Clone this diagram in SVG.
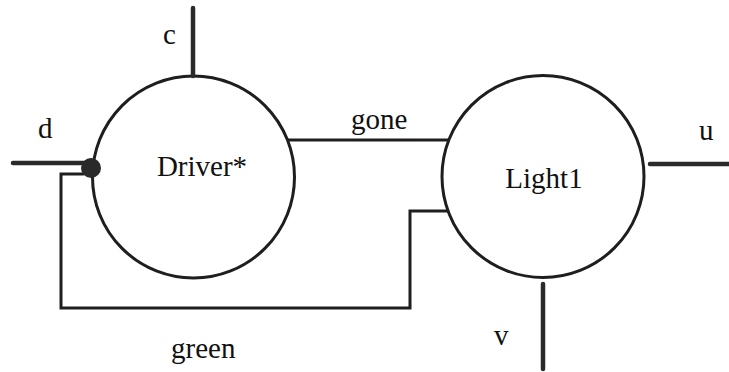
<svg xmlns="http://www.w3.org/2000/svg" width="729" height="372" viewBox="0 0 729 372">
<style>
.node{fill:#fff;stroke:#1e1e1e;stroke-width:3}
.port{stroke:#2a2a2a;stroke-width:4.5;stroke-linecap:round;fill:none}
.wire{stroke:#1e1e1e;stroke-width:3;fill:none}
text{font-family:"Liberation Serif","Times New Roman",serif;font-size:29px;fill:#111}
</style>
<rect width="729" height="372" fill="#fff"/>
<g id="connectors">
<polyline class="wire" points="84,174 61,174 61,308 410,308 410,211 448,211"/>
<line class="wire" x1="288" y1="140" x2="448" y2="140"/>
<text x="351" y="129">gone</text>
<text x="171" y="358">green</text>
</g>
<g id="driver">
<circle class="node" cx="193.5" cy="177" r="101"/>
<text x="202" y="176" text-anchor="middle">Driver*</text>
<line class="port" x1="193" y1="8" x2="193" y2="76"/>
<text x="163" y="44">c</text>
<line class="port" x1="13" y1="163" x2="88" y2="163"/>
<circle cx="91" cy="168" r="10" fill="#2a2a2a"/>
<text x="38" y="138">d</text>
</g>
<g id="light1">
<circle class="node" cx="543" cy="176.5" r="101"/>
<text x="544" y="188" text-anchor="middle">Light1</text>
<line class="port" x1="650" y1="164" x2="729" y2="164"/>
<text x="699" y="140">u</text>
<line class="port" x1="543" y1="284" x2="543" y2="369"/>
<text x="494" y="345">v</text>
</g>
</svg>
